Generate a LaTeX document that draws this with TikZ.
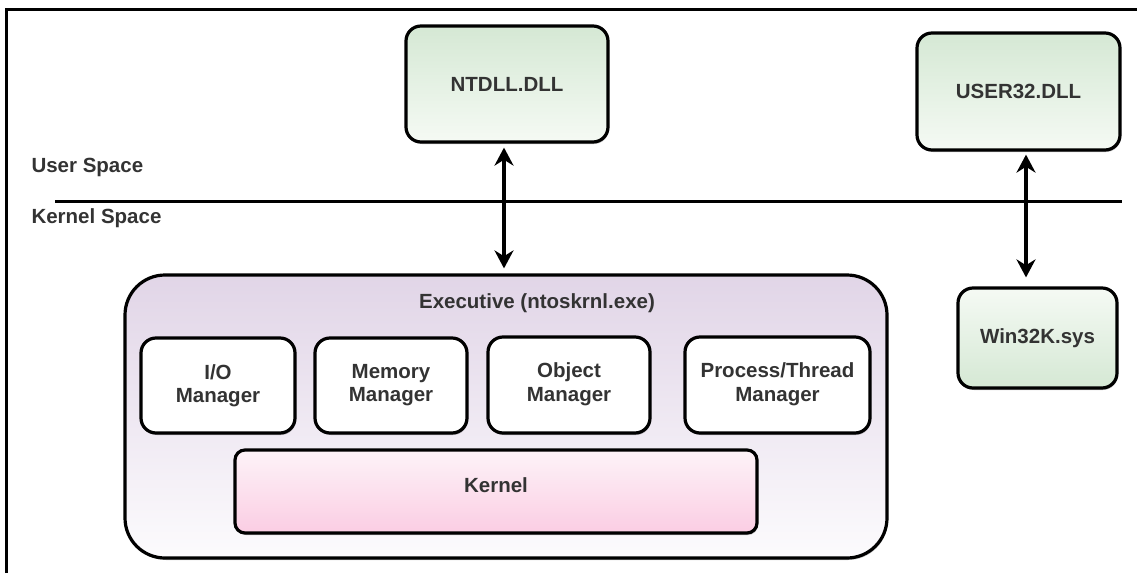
\documentclass[tikz,border=0pt]{standalone}
\usepackage{fontspec}
\setmainfont{Liberation Sans}
\usetikzlibrary{arrows.meta,shadows}
\definecolor{txt}{HTML}{333333}
\definecolor{gtop}{HTML}{D5E8D4}
\definecolor{gbot}{HTML}{F5FAF4}
\definecolor{ptop}{HTML}{E1D5E7}
\definecolor{pbot}{HTML}{FCFBFD}
\definecolor{ktop}{HTML}{FDF3F8}
\definecolor{kbot}{HTML}{FBCDE3}
\tikzset{
  lbl/.style={font=\bfseries\fontsize{20.5}{23.5}\selectfont, text=txt},
  box/.style={lbl, draw=black, line width=3.2pt, rounded corners=15pt, align=center, inner sep=0pt,
    drop shadow={shadow xshift=1pt, shadow yshift=-2pt, fill=black, opacity=0.25}},
  greenbox/.style={box, top color=gtop, bottom color=gbot},
  greenboxup/.style={box, top color=gbot, bottom color=gtop},
  mgr/.style={box, fill=white},
  arr/.style={draw=black, line width=3.2pt, arrows={Stealth[length=18pt,width=19pt]-Stealth[length=18pt,width=19pt]}},
}
\begin{document}
\begin{tikzpicture}[x=1pt,y=-1pt]
\useasboundingbox (0,0) rectangle (1137,573);
% frame
\draw[line width=3pt] (6,573) -- (6,9) -- (1137,9);
% separator
\draw[line width=3pt] (55,201) -- (1122,201);
\node[lbl, anchor=west] (us) at (28,167) {User Space};
\node[lbl, anchor=west] (ks) at (28,218) {Kernel Space};
% user-space boxes
\node[greenbox, minimum width=202pt, minimum height=116pt] (ntdll) at (507,84) {NTDLL.DLL};
\node[greenbox, minimum width=203pt, minimum height=117pt] (user32) at (1018.5,91.5) {USER32.DLL};
\node[greenboxup, minimum width=159pt, minimum height=100pt] (win32k) at (1037.5,338) {Win32K.sys};
% executive
\node[box, rounded corners=40pt, top color=ptop, bottom color=pbot, minimum width=762pt, minimum height=283pt] (exec) at (506,416.5) {};
\node[lbl] (exectitle) at (537,303) {Executive (ntoskrnl.exe)};
\node[mgr, minimum width=154pt, minimum height=95pt] (io) at (218,385.5) {I/O\\Manager};
\node[mgr, minimum width=152pt, minimum height=95pt] (mem) at (391,385.5) {\raisebox{12pt}{\begin{tabular}{@{}c@{}}Memory\\Manager\end{tabular}}};
\node[mgr, minimum width=162pt, minimum height=96pt] (obj) at (569,385) {\raisebox{4pt}{\begin{tabular}{@{}c@{}}Object\\Manager\end{tabular}}};
\node[mgr, minimum width=185pt, minimum height=96pt] (proc) at (777.5,385) {\raisebox{4pt}{\begin{tabular}{@{}c@{}}Process/Thread\\Manager\end{tabular}}};
\node[box, rounded corners=10pt, top color=ktop, bottom color=kbot, minimum width=522pt, minimum height=83pt] (kernel) at (496,491.5) {\raisebox{13pt}{Kernel}};
% arrows
\draw[arr, shorten <=4pt, shorten >=5pt] ([xshift=-3pt]ntdll.south) -- ([xshift=-2pt]exec.north);
\draw[arr, shorten <=3pt, shorten >=9pt] ([xshift=7.5pt]user32.south) -- ([xshift=7.5pt]user32.south |- win32k.north);
\end{tikzpicture}
\end{document}
